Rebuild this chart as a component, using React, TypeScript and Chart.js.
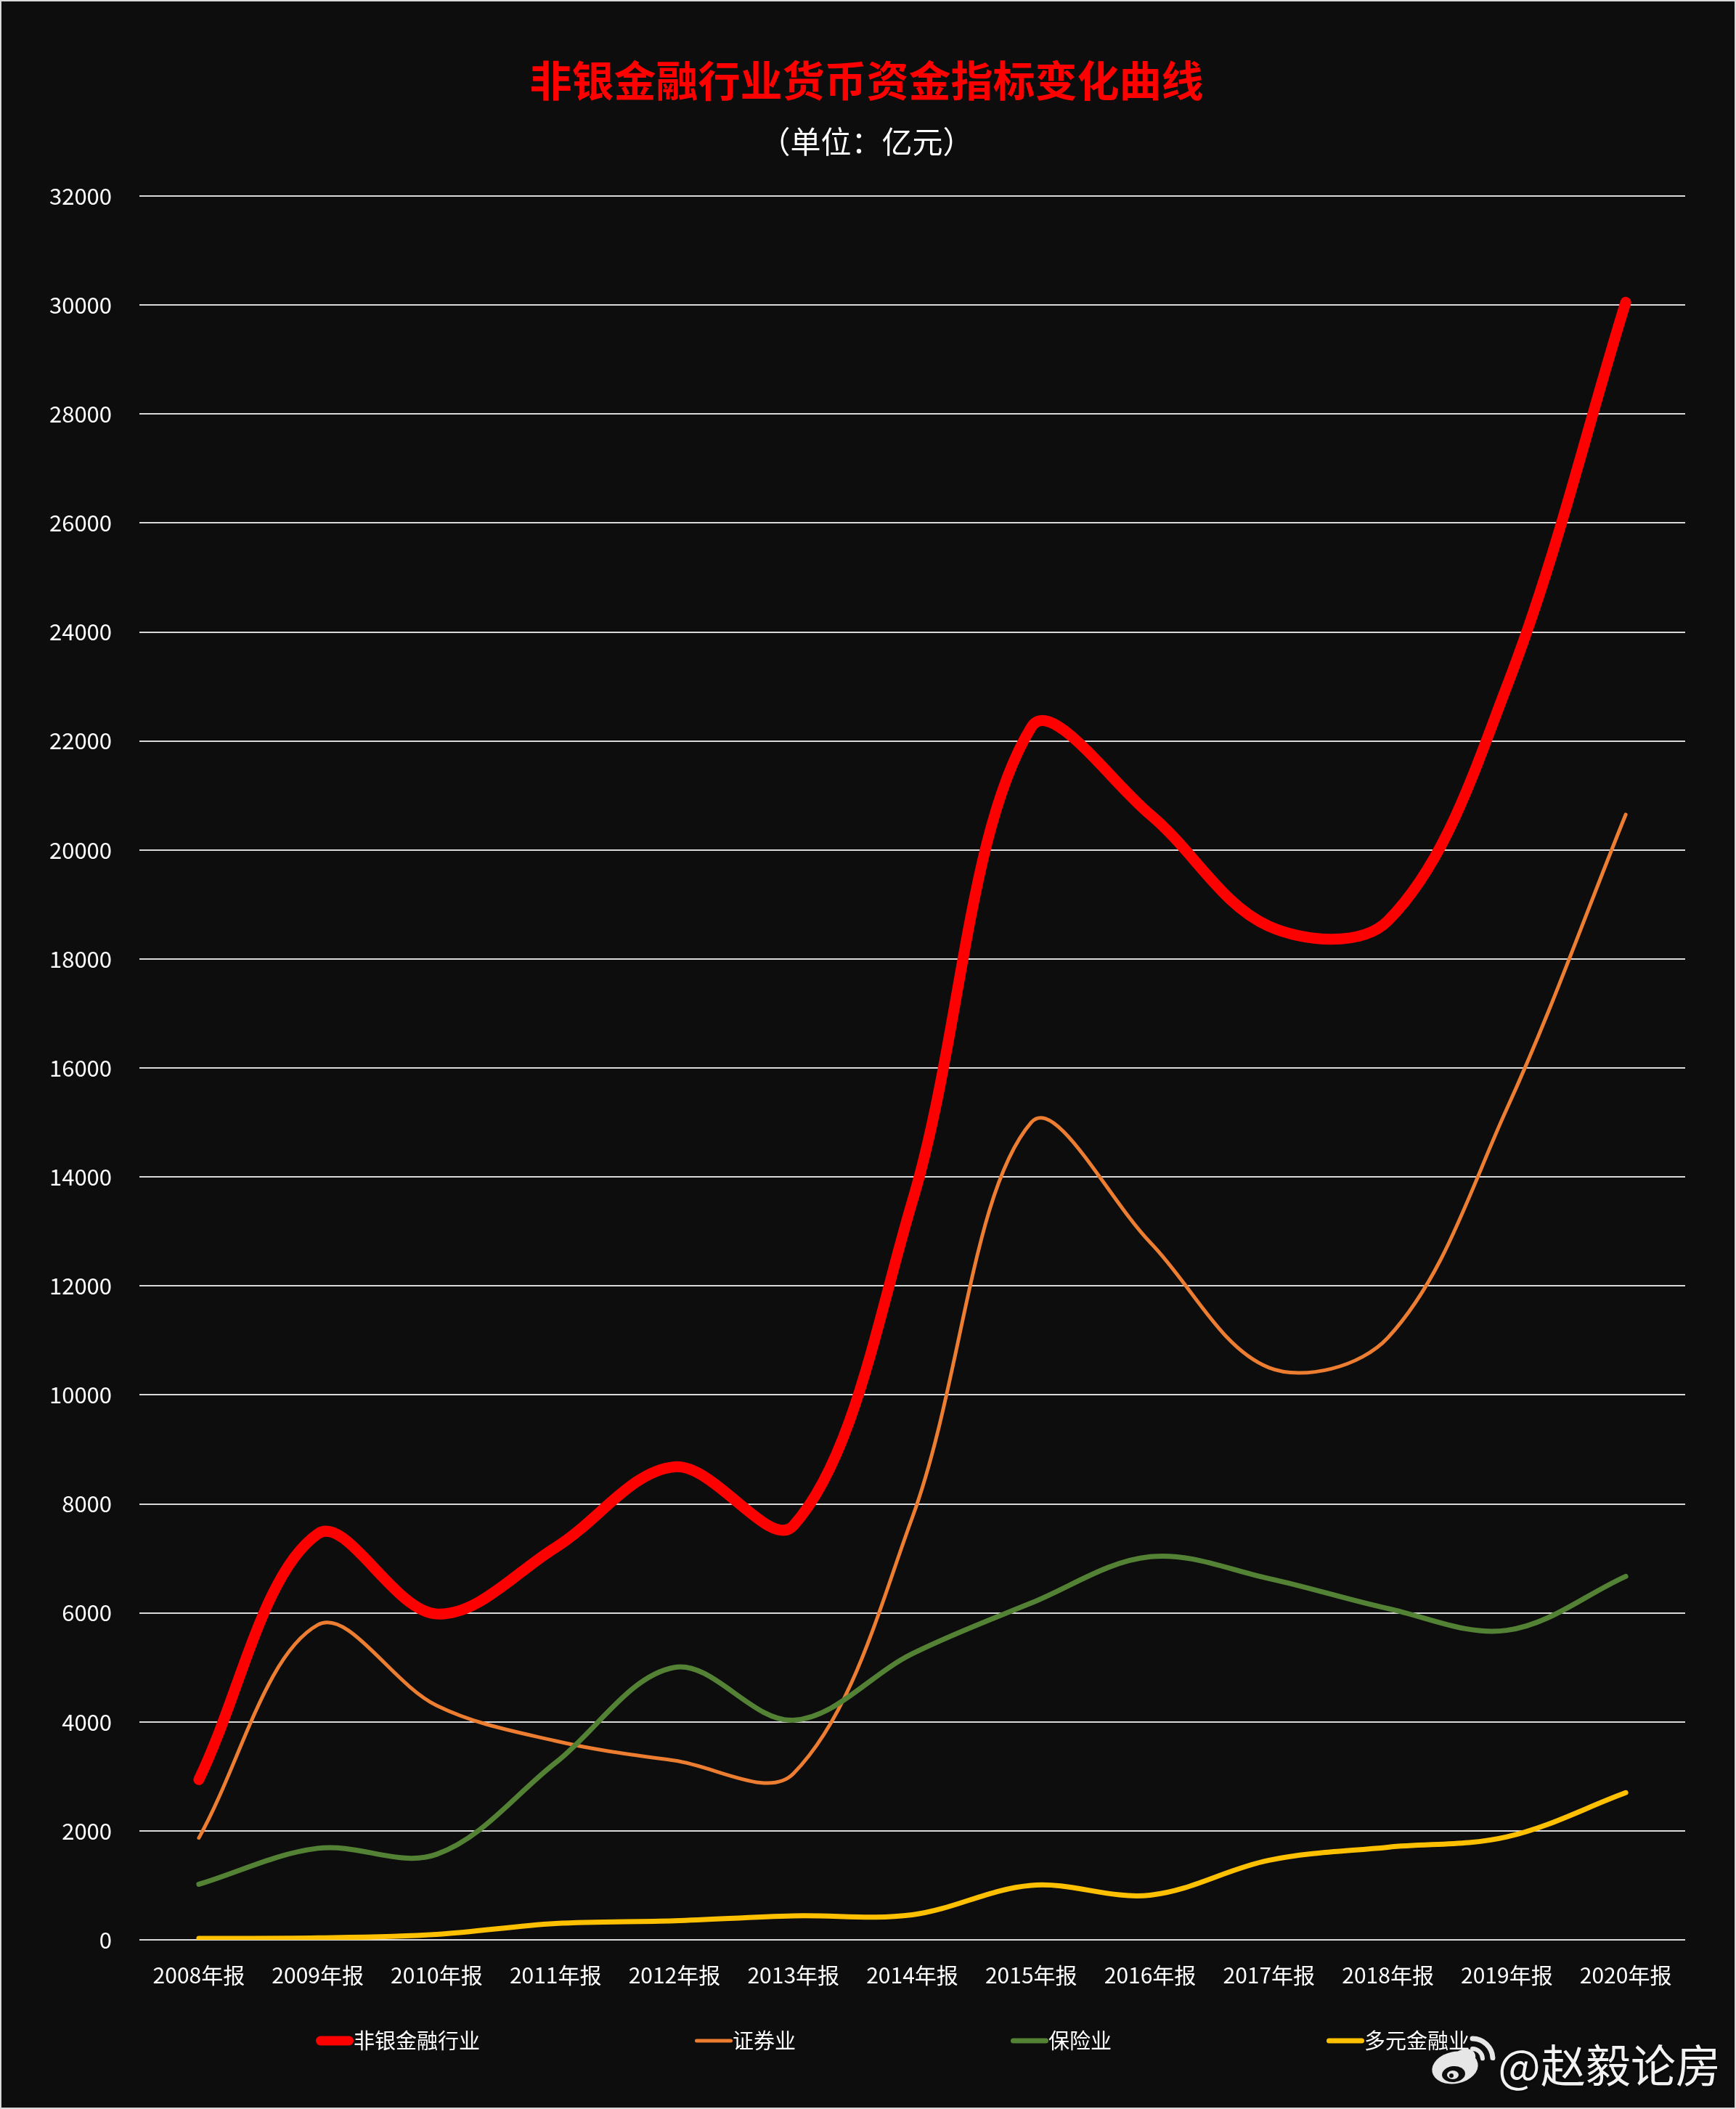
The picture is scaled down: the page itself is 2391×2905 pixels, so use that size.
import React, { useEffect, useRef } from 'react';
import { Chart, registerables } from 'chart.js';

Chart.register(...registerables);

const FONT = '"Noto Sans CJK SC", "Noto Sans", sans-serif';

const years = [
  '2008年报', '2009年报', '2010年报', '2011年报', '2012年报', '2013年报', '2014年报',
  '2015年报', '2016年报', '2017年报', '2018年报', '2019年报', '2020年报',
];
const seriesNames = ['非银金融行业', '证券业', '保险业', '多元金融业'];
const nonBank = [2940, 7450, 5980, 7200, 8680, 7600, 13550, 22250, 20650, 18600, 18700, 23000, 30050];
const securities = [1870, 5780, 4300, 3650, 3290, 3050, 7750, 15000, 12800, 10500, 11050, 15250, 20650];
const insurance = [1020, 1680, 1570, 3250, 5000, 4030, 5250, 6180, 7030, 6630, 6080, 5680, 6670];
const diversified = [25, 35, 100, 300, 350, 440, 460, 1000, 820, 1460, 1700, 1890, 2700];

const BG = '#0d0d0d';

function drawWeibo(ctx: CanvasRenderingContext2D, cx: number, cy: number) {
  ctx.save();
  ctx.fillStyle = '#e6e6e6';
  ctx.beginPath();
  ctx.ellipse(cx, cy, 32, 22, -0.2, 0, Math.PI * 2);
  ctx.fill();
  ctx.beginPath();
  ctx.ellipse(cx + 12, cy - 12, 17, 13, -0.5, 0, Math.PI * 2);
  ctx.fill();
  ctx.fillStyle = BG;
  ctx.beginPath();
  ctx.ellipse(cx - 2, cy + 9, 16, 11, -0.1, 0, Math.PI * 2);
  ctx.fill();
  ctx.fillStyle = '#e6e6e6';
  ctx.beginPath();
  ctx.ellipse(cx - 3, cy + 10, 8, 6, 0, 0, Math.PI * 2);
  ctx.fill();
  ctx.fillStyle = BG;
  ctx.beginPath();
  ctx.arc(cx - 5, cy + 11, 3, 0, Math.PI * 2);
  ctx.fill();
  ctx.strokeStyle = '#e6e6e6';
  ctx.lineCap = 'round';
  ctx.lineWidth = 7;
  ctx.beginPath();
  ctx.arc(cx + 24, cy - 12, 28, -Math.PI * 0.5, -0.05);
  ctx.stroke();
  ctx.lineWidth = 6;
  ctx.beginPath();
  ctx.arc(cx + 24, cy - 12, 14, -Math.PI * 0.5, -0.05);
  ctx.stroke();
  ctx.restore();
}

const legendPlugin = {
  id: 'lineLegend',
  afterDraw(chart: any) {
    const { ctx, chartArea } = chart;
    ctx.save();
    ctx.font = `29px ${FONT}`;
    ctx.textBaseline = 'middle';
    ctx.textAlign = 'left';
    let x = chartArea.left + 243;
    const y = chartArea.bottom + 139;
    chart.data.datasets.forEach((ds: any) => {
      const lw = Math.min(ds.borderWidth, 13);
      ctx.strokeStyle = ds.borderColor;
      ctx.lineWidth = lw;
      ctx.lineCap = 'round';
      ctx.beginPath();
      ctx.moveTo(x + lw / 2, y);
      ctx.lineTo(x + 52 - lw / 2, y);
      ctx.stroke();
      ctx.fillStyle = '#ffffff';
      ctx.fillText(ds.label, x + 52, y);
      x += 52 + ctx.measureText(ds.label).width + 296;
    });

    // watermark
    drawWeibo(ctx, 2002, 2846);
    ctx.font = `62px ${FONT}`;
    ctx.textAlign = 'right';
    ctx.shadowColor = 'rgba(0,0,0,0.8)';
    ctx.shadowBlur = 3;
    ctx.shadowOffsetX = 1;
    ctx.shadowOffsetY = 1;
    ctx.fillStyle = '#f2f2f2';
    ctx.fillText('@赵毅论房', 2368, 2843);
    ctx.restore();
  },
};

export default function App() {
  const canvasRef = useRef<HTMLCanvasElement>(null);
  const chartRef = useRef<Chart | null>(null);

  useEffect(() => {
    document.body.style.margin = '0';
    if (!canvasRef.current) return;
    if (chartRef.current) chartRef.current.destroy();

    const line = (label: string, data: number[], color: string, width: number, order: number) => ({
      label,
      data,
      borderColor: color,
      backgroundColor: color,
      borderWidth: width,
      borderCapStyle: 'round' as const,
      borderJoinStyle: 'round' as const,
      pointRadius: 0,
      pointHoverRadius: 0,
      tension: 0.35,
      fill: false,
      order,
    });

    chartRef.current = new Chart(canvasRef.current, {
      type: 'line',
      data: {
        labels: years,
        datasets: [
          line(seriesNames[0], nonBank, '#ff0000', 15, 4),
          line(seriesNames[1], securities, '#ed7d31', 5, 3),
          line(seriesNames[2], insurance, '#548235', 7, 2),
          line(seriesNames[3], diversified, '#ffc000', 7, 1),
        ],
      },
      plugins: [legendPlugin],
      options: {
        animation: false,
        responsive: true,
        maintainAspectRatio: false,
        layout: { padding: { left: 64, right: 68, top: 0, bottom: 133 } },
        plugins: {
          legend: { display: false },
          tooltip: { enabled: false },
          title: {
            display: true,
            text: '非银金融行业货币资金指标变化曲线',
            color: '#ff0000',
            font: { family: FONT, size: 58, weight: 'bold' },
            padding: { top: 74, bottom: 0 },
          },
          subtitle: {
            display: true,
            text: '（单位：亿元）',
            color: '#ffffff',
            font: { family: FONT, size: 42 },
            padding: { top: 24, bottom: 50 },
          },
        },
        scales: {
          x: {
            offset: true,
            grid: { display: false, drawTicks: false },
            border: { display: false },
            ticks: { color: '#ffffff', font: { family: FONT, size: 30 }, padding: 31, maxRotation: 0 },
          },
          y: {
            min: 0,
            max: 32000,
            afterFit: (scale: any) => {
              scale.width = 126;
            },
            grid: { color: '#d9d9d9', lineWidth: 2, drawTicks: false },
            border: { display: false },
            ticks: {
              stepSize: 2000,
              color: '#ffffff',
              font: { family: FONT, size: 31 },
              padding: 38,
              callback: (v: any) => String(v),
            },
          },
        },
      },
    });

    return () => {
      if (chartRef.current) chartRef.current.destroy();
      chartRef.current = null;
    };
  }, []);

  return (
    <div
      style={{
        width: 2391,
        height: 2905,
        boxSizing: 'border-box',
        border: '2px solid #d9d9d9',
        background: BG,
      }}
    >
      <div style={{ position: 'relative', width: 2387, height: 2901 }}>
        <canvas ref={canvasRef} />
      </div>
    </div>
  );
}
